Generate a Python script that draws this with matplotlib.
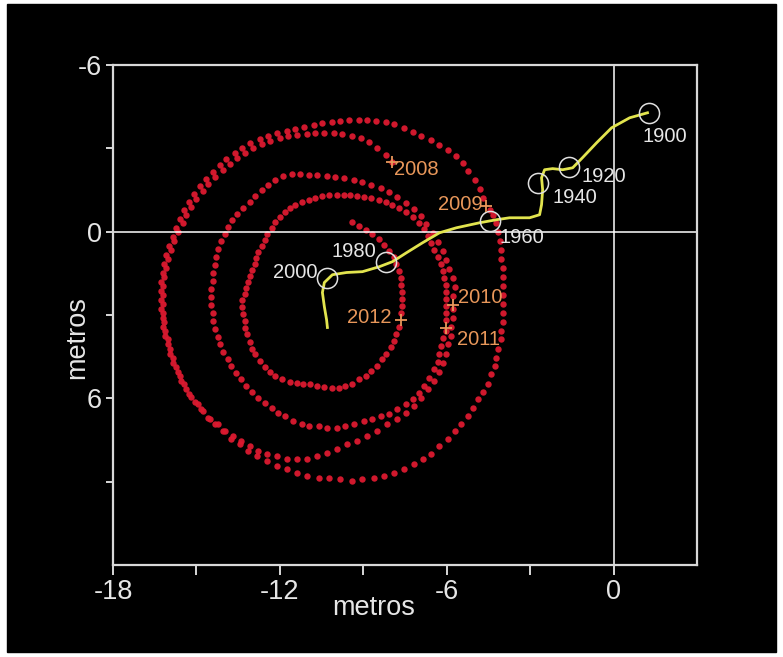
import numpy as np
import matplotlib.pyplot as plt
from matplotlib.patches import Rectangle

plt.rcParams['font.family'] = ['Liberation Sans', 'DejaVu Sans']
plt.rcParams['axes.unicode_minus'] = False

# Movimiento del polo 2008-2012 (puntos rojos), en metros.
polo_2008 = [
    (-7.95, -2.52), (-8.20, -2.77), (-8.49, -3.02), (-8.78, -3.24), (-9.10, -3.38),
    (-9.42, -3.45), (-9.75, -3.53), (-10.07, -3.56), (-10.40, -3.56), (-10.72, -3.56),
    (-11.04, -3.53), (-11.37, -3.49), (-11.69, -3.45), (-12.01, -3.38), (-12.34, -3.27),
    (-12.66, -3.17), (-12.95, -3.02), (-13.24, -2.84), (-13.53, -2.66), (-13.81, -2.45),
    (-14.06, -2.23), (-14.32, -1.98), (-14.57, -1.73), (-14.78, -1.47), (-15.00, -1.19),
    (-15.18, -0.90), (-15.36, -0.61), (-15.50, -0.32), (-15.65, 0.00), (-15.79, 0.32),
    (-15.90, 0.65), (-16.01, 0.97), (-16.08, 1.29), (-16.15, 1.62), (-16.19, 1.94),
    (-16.19, 2.27), (-16.19, 2.59), (-16.19, 2.91), (-16.15, 3.24), (-16.12, 3.56),
    (-16.04, 3.88), (-15.94, 4.21), (-15.83, 4.53), (-15.72, 4.86), (-15.58, 5.18),
    (-15.43, 5.50), (-15.25, 5.83), (-15.04, 6.12), (-14.82, 6.40), (-14.57, 6.69),
    (-14.32, 6.94), (-14.03, 7.19), (-13.74, 7.45), (-13.45, 7.66), (-13.13, 7.88),
    (-12.81, 8.09), (-12.48, 8.27), (-12.12, 8.42), (-11.76, 8.56), (-11.40, 8.67),
    (-11.01, 8.78), (-10.61, 8.85), (-10.22, 8.88), (-9.82, 8.92), (-9.42, 8.96),
    (-9.03, 8.92), (-8.63, 8.88), (-8.24, 8.81), (-7.88, 8.70), (-7.52, 8.56),
    (-7.19, 8.38), (-6.87, 8.20), (-6.55, 7.99), (-6.26, 7.73), (-5.97, 7.48),
    (-5.72, 7.19), (-5.47, 6.91), (-5.25, 6.62), (-5.04, 6.33), (-4.86, 6.04),
    (-4.68, 5.76), (-4.53, 5.47), (-4.39, 5.14), (-4.28, 4.82), (-4.21, 4.53),
    (-4.14, 4.21), (-4.06, 3.88), (-4.03, 3.56), (-3.99, 3.24), (-3.99, 2.91),
    (-3.99, 2.59), (-3.99, 2.27), (-3.99, 1.94), (-3.99, 1.62), (-3.99, 1.29),
    (-4.03, 0.97), (-4.06, 0.65), (-4.10, 0.32), (-4.17, 0.00), (-4.24, -0.32),
    (-4.35, -0.61), (-4.46, -0.79),
]
polo_2009 = [
    (-4.68, -1.22), (-4.82, -1.55), (-5.00, -1.87), (-5.22, -2.19), (-5.43, -2.48),
    (-5.68, -2.73), (-5.97, -2.95), (-6.26, -3.13), (-6.58, -3.31), (-6.91, -3.45),
    (-7.23, -3.60), (-7.55, -3.74), (-7.88, -3.88), (-8.20, -3.96), (-8.53, -3.99),
    (-8.85, -4.03), (-9.17, -4.03), (-9.50, -4.03), (-9.82, -3.99), (-10.14, -3.96),
    (-10.47, -3.92), (-10.79, -3.85), (-11.12, -3.78), (-11.44, -3.70), (-11.76, -3.63),
    (-12.09, -3.56), (-12.41, -3.45), (-12.73, -3.35), (-13.06, -3.20), (-13.35, -3.02),
    (-13.63, -2.84), (-13.92, -2.63), (-14.17, -2.41), (-14.42, -2.16), (-14.64, -1.91),
    (-14.86, -1.65), (-15.07, -1.37), (-15.25, -1.08), (-15.43, -0.79), (-15.58, -0.47),
    (-15.72, -0.14), (-15.86, 0.18), (-15.97, 0.50), (-16.08, 0.83), (-16.15, 1.15),
    (-16.22, 1.47), (-16.26, 1.80), (-16.26, 2.12), (-16.26, 2.45), (-16.26, 2.77),
    (-16.22, 3.09), (-16.19, 3.42), (-16.12, 3.74), (-16.04, 4.06), (-15.94, 4.39),
    (-15.83, 4.71), (-15.68, 5.04), (-15.54, 5.36), (-15.36, 5.65), (-15.18, 5.94),
    (-14.96, 6.22), (-14.75, 6.47), (-14.50, 6.73), (-14.24, 6.94), (-13.96, 7.16),
    (-13.67, 7.37), (-13.38, 7.55), (-13.09, 7.73), (-12.77, 7.88), (-12.45, 8.02),
    (-12.09, 8.09), (-11.73, 8.17), (-11.37, 8.20), (-11.01, 8.17), (-10.65, 8.09),
    (-10.29, 7.95), (-9.93, 7.81), (-9.57, 7.66), (-9.21, 7.52), (-8.85, 7.34),
    (-8.49, 7.16), (-8.13, 6.94), (-7.77, 6.73), (-7.45, 6.51), (-7.16, 6.26),
    (-6.91, 5.97), (-6.69, 5.68), (-6.47, 5.36), (-6.29, 5.04), (-6.15, 4.71),
    (-6.04, 4.39), (-5.94, 4.06), (-5.86, 3.74), (-5.83, 3.42), (-5.79, 3.09),
    (-5.79, 2.77),
]
polo_2010 = [
    (-5.76, 2.30), (-5.72, 1.98), (-5.79, 1.65), (-5.90, 1.33), (-6.01, 1.01),
    (-6.15, 0.68), (-6.33, 0.36), (-6.51, 0.04), (-6.73, -0.29), (-6.94, -0.58),
    (-7.19, -0.83), (-7.48, -1.04), (-7.77, -1.26), (-8.06, -1.44), (-8.38, -1.58),
    (-8.71, -1.69), (-9.03, -1.80), (-9.35, -1.87), (-9.68, -1.94), (-10.00, -1.98),
    (-10.32, -2.01), (-10.65, -2.05), (-10.97, -2.05), (-11.29, -2.09), (-11.58, -2.09),
    (-11.87, -2.01), (-12.16, -1.87), (-12.41, -1.69), (-12.66, -1.51), (-12.88, -1.29),
    (-13.09, -1.08), (-13.31, -0.86), (-13.53, -0.65), (-13.71, -0.43), (-13.85, -0.18),
    (-13.99, 0.07), (-14.10, 0.32), (-14.21, 0.61), (-14.28, 0.90), (-14.35, 1.19),
    (-14.39, 1.47), (-14.42, 1.76), (-14.46, 2.05), (-14.46, 2.34), (-14.46, 2.63),
    (-14.42, 2.91), (-14.39, 3.20), (-14.32, 3.49), (-14.24, 3.78), (-14.14, 4.06),
    (-14.03, 4.32), (-13.88, 4.57), (-13.74, 4.82), (-13.56, 5.07), (-13.38, 5.32),
    (-13.20, 5.54), (-12.99, 5.76), (-12.77, 5.97), (-12.55, 6.15), (-12.30, 6.33),
    (-12.05, 6.51), (-11.80, 6.65), (-11.51, 6.80), (-11.22, 6.91), (-10.94, 6.98),
    (-10.61, 7.01), (-10.29, 7.05), (-9.96, 7.05), (-9.64, 6.98), (-9.32, 6.91),
    (-8.99, 6.83), (-8.67, 6.73), (-8.35, 6.65), (-8.06, 6.55), (-7.77, 6.40),
    (-7.48, 6.22), (-7.23, 6.04), (-7.01, 5.79), (-6.80, 5.54), (-6.62, 5.25),
    (-6.44, 4.96), (-6.33, 4.68), (-6.26, 4.39), (-6.19, 4.10), (-6.12, 3.81),
    (-6.04, 3.56),
]
polo_2011 = [
    (-6.01, 3.17), (-6.01, 2.91), (-6.01, 2.66), (-6.01, 2.41), (-6.01, 2.16),
    (-6.04, 1.91), (-6.08, 1.65), (-6.15, 1.40), (-6.22, 1.15), (-6.33, 0.90),
    (-6.44, 0.65), (-6.55, 0.40), (-6.69, 0.14), (-6.83, -0.11), (-7.01, -0.32),
    (-7.23, -0.54), (-7.45, -0.72), (-7.70, -0.86), (-7.95, -0.97), (-8.20, -1.08),
    (-8.45, -1.15), (-8.71, -1.22), (-8.96, -1.26), (-9.21, -1.29), (-9.46, -1.33),
    (-9.71, -1.33), (-9.96, -1.33), (-10.22, -1.33), (-10.47, -1.29), (-10.72, -1.22),
    (-10.97, -1.15), (-11.22, -1.08), (-11.44, -0.97), (-11.65, -0.86), (-11.83, -0.72),
    (-12.01, -0.54), (-12.16, -0.36), (-12.30, -0.14), (-12.45, 0.07), (-12.55, 0.29),
    (-12.66, 0.50), (-12.77, 0.72), (-12.84, 0.94), (-12.91, 1.15), (-12.99, 1.37),
    (-13.06, 1.58), (-13.13, 1.80), (-13.20, 2.01), (-13.27, 2.23), (-13.35, 2.45),
    (-13.35, 2.70), (-13.31, 2.95), (-13.27, 3.20), (-13.24, 3.45), (-13.17, 3.70),
    (-13.09, 3.96), (-12.99, 4.21), (-12.88, 4.42), (-12.73, 4.64), (-12.55, 4.86),
    (-12.37, 5.04), (-12.16, 5.18), (-11.91, 5.32), (-11.65, 5.40), (-11.40, 5.43),
    (-11.15, 5.47), (-10.90, 5.50), (-10.65, 5.54), (-10.40, 5.58), (-10.14, 5.61),
    (-9.89, 5.61), (-9.64, 5.54), (-9.39, 5.47), (-9.14, 5.32), (-8.92, 5.18),
    (-8.71, 5.00), (-8.49, 4.82), (-8.31, 4.60), (-8.17, 4.39), (-8.02, 4.14),
    (-7.91, 3.92), (-7.81, 3.67), (-7.73, 3.42),
]
polo_2012 = [
    (-7.63, 2.91), (-7.59, 2.66), (-7.59, 2.41), (-7.59, 2.16), (-7.63, 1.91),
    (-7.66, 1.65), (-7.73, 1.40), (-7.81, 1.15), (-7.91, 0.90), (-8.06, 0.68),
    (-8.24, 0.47), (-8.45, 0.25), (-8.67, 0.07), (-8.92, -0.07), (-9.17, -0.22),
    (-9.42, -0.36),
]

# Deriva del polo medio 1900-2000 (línea amarilla)
deriva_x = [1.22, 0.58, -0.07, -0.61, -1.12, -1.47, -1.83, -2.19, -2.48, -2.59,
            -2.55, -2.59, -2.66, -3.02, -3.74, -4.21, -4.82, -5.65, -6.26, -6.87,
            -7.45, -7.95, -8.42, -9.03, -9.60, -10.11, -10.40, -10.47, -10.40,
            -10.32, -10.29]
deriva_y = [-4.28, -4.10, -3.74, -3.20, -2.66, -2.30, -2.23, -2.27, -2.23, -1.94,
            -1.51, -0.97, -0.61, -0.50, -0.50, -0.43, -0.32, -0.14, 0.04, 0.40,
            0.76, 1.08, 1.26, 1.44, 1.47, 1.55, 1.83, 2.19, 2.70, 3.17, 3.45]

decadas = ['1900', '1920', '1940', '1960', '1980', '2000']
decadas_x = [1.26, -1.62, -2.70, -4.46, -8.20, -10.32]
decadas_y = [-4.28, -2.34, -1.76, -0.40, 1.08, 1.65]

anos = ['2008', '2009', '2010', '2011', '2012']
anos_x = [-7.95, -4.57, -5.79, -6.01, -7.66]
anos_y = [-2.52, -0.94, 2.63, 3.45, 3.17]

# Lage der Beschriftungen relativ zur Marke (Pixel)
off_decadas = [(-6, -24, 'left'), (13, -10, 'left'), (14, -15, 'left'),
               (10, -17, 'left'), (-9, 10, 'right'), (-9, 5, 'right')]
off_anos = [(2, -8, 'left'), (-4, 1, 'right'), (5, 7, 'left'),
            (11, -12, 'left'), (-9, 2, 'right')]

fig = plt.figure(figsize=(7.83, 6.57), dpi=100)
fig.patch.set_facecolor('white')
fig.patches.append(Rectangle((7 / 783, 5 / 657), 769 / 783, 648 / 657,
                             transform=fig.transFigure, color='black',
                             zorder=-10))
ax = fig.add_axes([113 / 783, 92 / 657, 584 / 783, 500 / 657])
ax.set_facecolor('black')

fg = '#e6e6e6'
for s in ax.spines.values():
    s.set_color('#d8d8d8')
    s.set_linewidth(1.6)

ax.axhline(0, color='white', lw=1.1, zorder=2)
ax.axvline(0, color='white', lw=1.1, zorder=2)

polo = np.array(polo_2008 + polo_2009 + polo_2010 + polo_2011 + polo_2012)
ax.plot(polo[:, 0], polo[:, 1], 'o', color='#dc1a30', ms=4.6, mew=0,
        alpha=0.95, zorder=1)

ax.plot(deriva_x, deriva_y, color='#e2e44e', lw=2.0, zorder=3)
ax.plot(decadas_x, decadas_y, 'o', mfc='none', mec='#e0e0e0', ms=14.5,
        mew=1.1, zorder=4)
for t, x, y, (dx, dy, ha) in zip(decadas, decadas_x, decadas_y, off_decadas):
    ax.annotate(t, (x, y), xytext=(dx, dy), textcoords='offset pixels',
                ha=ha, va='center', color=fg, fontsize=14.5, zorder=5)

naranja = '#e8975a'
ax.plot(anos_x, anos_y, '+', color=naranja, ms=8, mew=1.3, zorder=4)
for t, x, y, (dx, dy, ha) in zip(anos, anos_x, anos_y, off_anos):
    ax.annotate(t, (x, y), xytext=(dx, dy), textcoords='offset pixels',
                ha=ha, va='center', color=naranja, fontsize=14.5, zorder=5)

ax.set_xlim(-18, 3)
ax.set_ylim(12, -6)
ax.set_xticks(range(-18, 1, 3))
ax.set_xticklabels(['-18', '', '-12', '', '-6', '', '0'])
ax.set_yticks(range(-6, 10, 3))
ax.set_yticklabels(['-6', '', '0', '', '6', ''])
ax.tick_params(axis='x', colors='#d8d8d8', labelcolor=fg, labelsize=19.5,
               length=7, width=1.4, pad=3)
ax.tick_params(axis='y', colors='#d8d8d8', labelcolor=fg, labelsize=19.5,
               length=5, width=1.4, pad=3)

ax.set_xlabel('metros', color=fg, fontsize=19.5)
ax.set_ylabel('metros', color=fg, fontsize=19.5)
ax.xaxis.set_label_coords(0.447, -0.086)
ax.yaxis.set_label_coords(-0.062, 0.454)
ax.xaxis.label.set_va('center')
ax.yaxis.label.set_va('center')

fig.savefig('out.png', dpi=100, facecolor=fig.get_facecolor())
